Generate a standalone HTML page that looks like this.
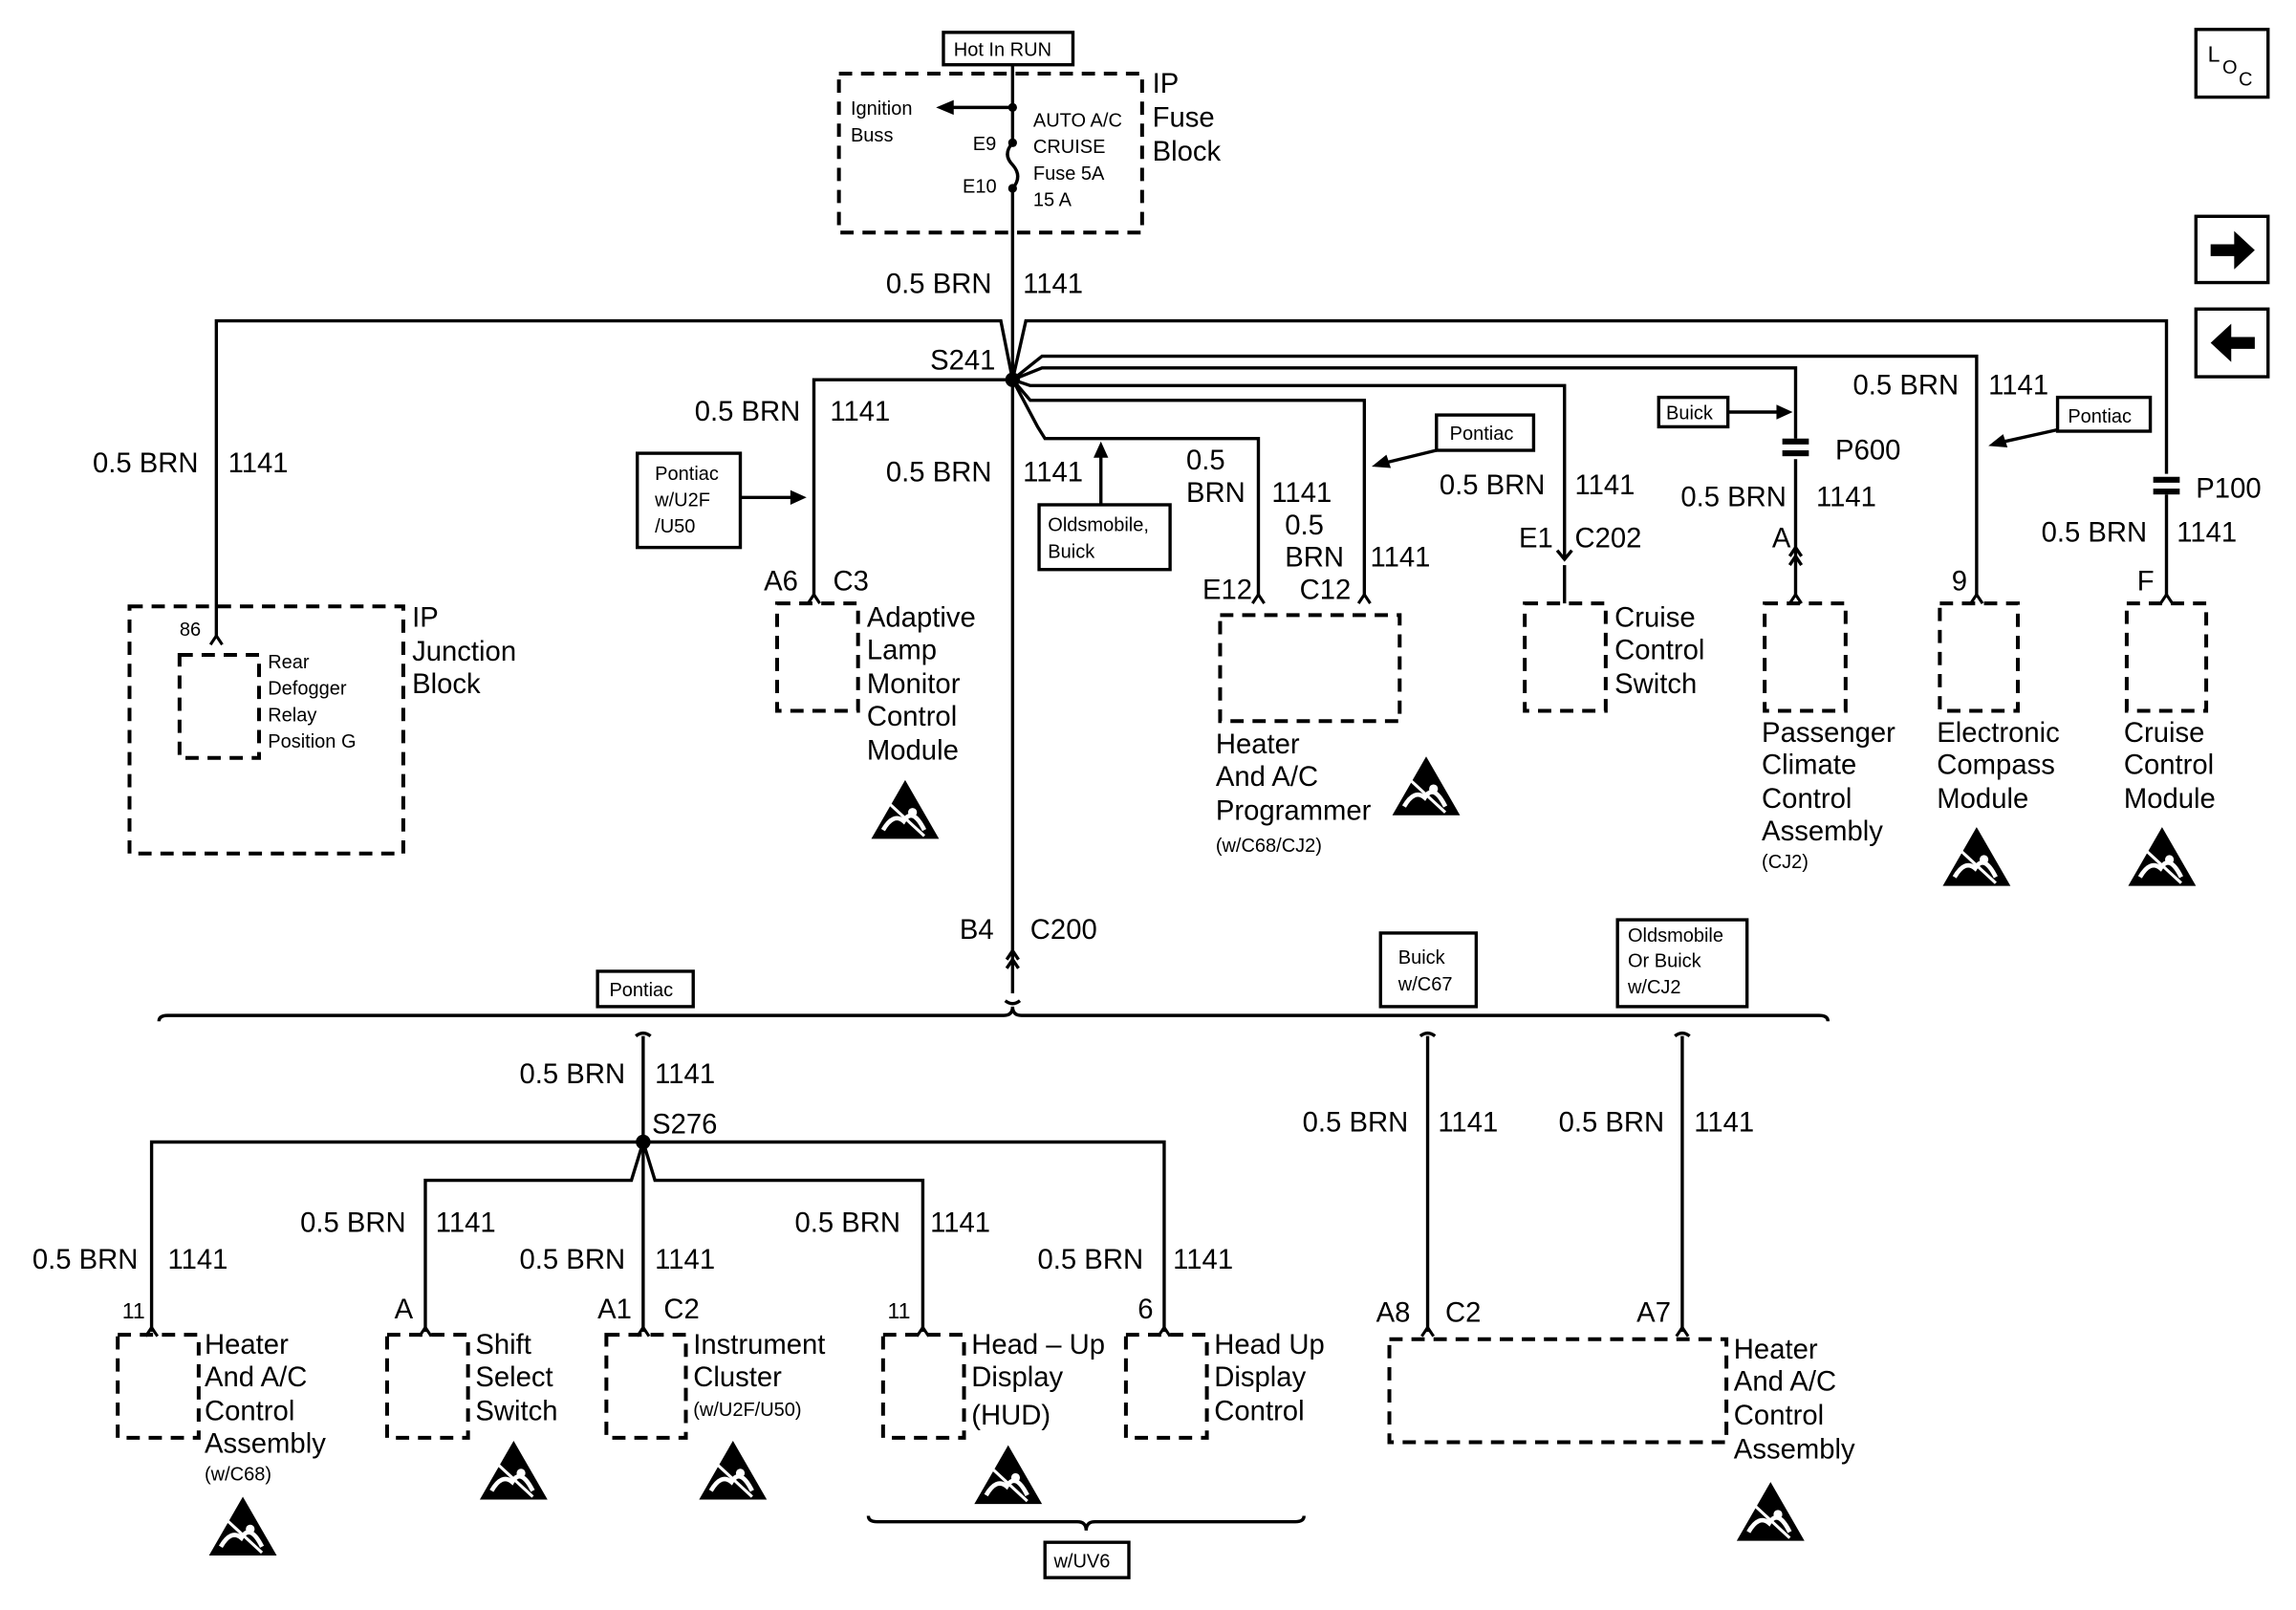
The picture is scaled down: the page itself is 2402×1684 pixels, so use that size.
<!DOCTYPE html>
<html><head><meta charset="utf-8"><style>
html,body{margin:0;padding:0;background:#fff}
svg{display:block}
text{font-family:"Liberation Sans",sans-serif;fill:#000}
.L{font-size:19px}.S{font-size:13px}.M{font-size:15px}
.w{stroke:#000;stroke-width:2.2;fill:none}
.d{stroke:#000;stroke-width:2.6;fill:none;stroke-dasharray:9,6}
.b{stroke:#000;stroke-width:2.2;fill:#fff}
</style></head><body>
<svg width="2402" height="1684" viewBox="0 0 1560 1094" preserveAspectRatio="none" xmlns="http://www.w3.org/2000/svg">
<defs>
<g id="esd"><polygon points="0,40 23,0 46,40" fill="#000"/><path d="M8,34 Q15,22 22,28 Q28,18 36,34" stroke="#fff" stroke-width="3" fill="none"/><line x1="10" y1="14" x2="36" y2="38" stroke="#fff" stroke-width="2"/><circle cx="28" cy="22" r="3" fill="#fff"/></g>
<path id="ch" d="M-4,6 L0,0 L4,6" stroke="#000" stroke-width="2" fill="none"/>
</defs>
<!-- right icons -->
<rect x="1492" y="20" width="49" height="46" class="b" stroke-width="3"/>
<text x="1500" y="42" class="M">L</text><text x="1510" y="50" class="S">O</text><text x="1521" y="58" class="S">C</text>
<rect x="1492" y="147" width="49" height="45" class="b" stroke-width="3"/>
<path d="M1502,166 h16 v-9 l14,13 l-14,13 v-9 h-16z" fill="#000"/>
<rect x="1492" y="210" width="49" height="46" class="b" stroke-width="3"/>
<path d="M1532,229 h-16 v-9 l-14,13 l14,13 v-9 h16z" fill="#000"/>
<!-- top fuse block -->
<rect x="641" y="22" width="88" height="22" class="b"/><text x="648" y="38" class="S">Hot In RUN</text>
<rect x="570" y="50" width="206" height="108" class="d"/>
<line x1="688" y1="44" x2="688" y2="97" class="w"/>
<line x1="688" y1="73" x2="645" y2="73" class="w"/><path d="M636,73 l12,-5 v10z" fill="#000"/>
<circle cx="688" cy="73" r="3"/><circle cx="688" cy="97" r="3"/><circle cx="688" cy="128" r="3"/>
<path d="M688,97 q-7,8 0,15 q7,8 0,16" class="w"/>
<text x="578" y="78" class="S">Ignition</text><text x="578" y="96" class="S">Buss</text>
<text x="661" y="102" class="S">E9</text><text x="654" y="131" class="S">E10</text>
<text x="702" y="86" class="S">AUTO A/C</text><text x="702" y="104" class="S">CRUISE</text><text x="702" y="122" class="S">Fuse 5A</text><text x="702" y="140" class="S">15 A</text>
<text x="783" y="63" class="L">IP</text><text x="783" y="86" class="L">Fuse</text><text x="783" y="109" class="L">Block</text>
<line x1="688" y1="128" x2="688" y2="675" class="w"/>
<text x="602" y="199" class="L">0.5 BRN</text><text x="695" y="199" class="L">1141</text>
<!-- S241 -->
<circle cx="688" cy="258" r="5"/>
<text x="632" y="251" class="L">S241</text>
<path d="M147,432 V218 H680 L688,258" class="w"/>
<path d="M688,258 L697,218 H1472 V322" class="w"/>
<path d="M688,258 L708,242 H1343 V406" class="w"/>
<path d="M688,258 L708,250 H1220 V298" class="w"/>
<path d="M1220,312 V406" class="w"/>
<path d="M688,258 L700,262 H1063 V380" class="w"/>
<path d="M688,258 L700,272 H927 V406" class="w"/>
<path d="M688,258 L705,290 L710,298 H855 V406" class="w"/>
<path d="M688,258 H553 V406" class="w"/>
<!-- connectors chevrons -->
<use href="#ch" x="147" y="432"/><use href="#ch" x="553" y="404"/><use href="#ch" x="855" y="404"/><use href="#ch" x="927" y="404"/>
<use href="#ch" x="1343" y="404"/><use href="#ch" x="1220" y="404"/><use href="#ch" x="1472" y="404"/>
<path d="M1058,374 l5,6 l5,-6" class="w"/><line x1="1063" y1="384" x2="1063" y2="410" class="w"/>
<path d="M1216,378 l4,-6 l4,6 M1216,384 l4,-6 l4,6" class="w"/>
<!-- P600, P100 -->
<rect x="1211" y="298" width="18" height="4" fill="#000"/><rect x="1211" y="306" width="18" height="4" fill="#000"/>
<rect x="1463" y="324" width="18" height="4" fill="#000"/><rect x="1463" y="332" width="18" height="4" fill="#000"/>
<line x1="1472" y1="336" x2="1472" y2="406" class="w"/>
<text x="1247" y="312" class="L">P600</text><text x="1492" y="338" class="L">P100</text>
<!-- wire labels -->
<text x="63" y="321" class="L">0.5 BRN</text><text x="155" y="321" class="L">1141</text>
<text x="472" y="286" class="L">0.5 BRN</text><text x="564" y="286" class="L">1141</text>
<text x="602" y="327" class="L">0.5 BRN</text><text x="695" y="327" class="L">1141</text>
<text x="806" y="319" class="L">0.5</text><text x="806" y="341" class="L">BRN</text><text x="864" y="341" class="L">1141</text>
<text x="873" y="363" class="L">0.5</text><text x="873" y="385" class="L">BRN</text><text x="931" y="385" class="L">1141</text>
<text x="978" y="336" class="L">0.5 BRN</text><text x="1070" y="336" class="L">1141</text>
<text x="1142" y="344" class="L">0.5 BRN</text><text x="1234" y="344" class="L">1141</text>
<text x="1259" y="268" class="L">0.5 BRN</text><text x="1351" y="268" class="L">1141</text>
<text x="1387" y="368" class="L">0.5 BRN</text><text x="1479" y="368" class="L">1141</text>
<text x="519" y="401" class="L">A6</text><text x="566" y="401" class="L">C3</text>
<text x="817" y="407" class="L">E12</text><text x="883" y="407" class="L">C12</text>
<text x="1032" y="372" class="L">E1</text><text x="1070" y="372" class="L">C202</text>
<text x="1204" y="372" class="L">A</text><text x="1326" y="401" class="L">9</text><text x="1452" y="401" class="L">F</text>
<text x="122" y="432" class="S">86</text>
<!-- option labels -->
<rect x="433" y="308" width="70" height="64" class="b"/><text x="445" y="326" class="S">Pontiac</text><text x="445" y="344" class="S">w/U2F</text><text x="445" y="362" class="S">/U50</text>
<line x1="503" y1="338" x2="538" y2="338" class="w"/><path d="M548,338 l-11,-5 v10z" fill="#000"/>
<rect x="706" y="343" width="89" height="44" class="b"/><text x="712" y="361" class="S">Oldsmobile,</text><text x="712" y="379" class="S">Buick</text>
<line x1="748" y1="343" x2="748" y2="310" class="w"/><path d="M748,300 l-5,11 h10z" fill="#000"/>
<rect x="976" y="282" width="66" height="24" class="b"/><text x="985" y="299" class="S">Pontiac</text>
<line x1="976" y1="306" x2="943" y2="314" class="w"/><path d="M932,317 l10,-8 l3,9z" fill="#000"/>
<rect x="1127" y="270" width="47" height="20" class="b"/><text x="1132" y="285" class="S">Buick</text>
<line x1="1174" y1="280" x2="1208" y2="280" class="w"/><path d="M1218,280 l-11,-5 v10z" fill="#000"/>
<rect x="1398" y="270" width="63" height="23" class="b"/><text x="1405" y="287" class="S">Pontiac</text>
<line x1="1398" y1="292" x2="1362" y2="300" class="w"/><path d="M1351,303 l10,-8 l3,9z" fill="#000"/>
<!-- top components -->
<rect x="88" y="412" width="186" height="168" class="d"/><rect x="122" y="445" width="54" height="70" class="d"/>
<text x="182" y="454" class="S">Rear</text><text x="182" y="472" class="S">Defogger</text><text x="182" y="490" class="S">Relay</text><text x="182" y="508" class="S">Position G</text>
<text x="280" y="426" class="L">IP</text><text x="280" y="449" class="L">Junction</text><text x="280" y="471" class="L">Block</text>
<rect x="528" y="410" width="55" height="73" class="d"/>
<text x="589" y="426" class="L">Adaptive</text><text x="589" y="448" class="L">Lamp</text><text x="589" y="471" class="L">Monitor</text><text x="589" y="493" class="L">Control</text><text x="589" y="516" class="L">Module</text>
<use href="#esd" x="592" y="530"/>
<rect x="829" y="418" width="122" height="72" class="d"/>
<text x="826" y="512" class="L">Heater</text><text x="826" y="534" class="L">And A/C</text><text x="826" y="557" class="L">Programmer</text><text x="826" y="579" class="S">(w/C68/CJ2)</text>
<use href="#esd" x="946" y="514"/>
<rect x="1036" y="410" width="55" height="73" class="d"/>
<text x="1097" y="426" class="L">Cruise</text><text x="1097" y="448" class="L">Control</text><text x="1097" y="471" class="L">Switch</text>
<rect x="1199" y="410" width="55" height="73" class="d"/>
<text x="1197" y="504" class="L">Passenger</text><text x="1197" y="526" class="L">Climate</text><text x="1197" y="549" class="L">Control</text><text x="1197" y="571" class="L">Assembly</text><text x="1197" y="590" class="S">(CJ2)</text>
<rect x="1318" y="410" width="53" height="73" class="d"/>
<text x="1316" y="504" class="L">Electronic</text><text x="1316" y="526" class="L">Compass</text><text x="1316" y="549" class="L">Module</text>
<use href="#esd" x="1320" y="562"/>
<rect x="1445" y="410" width="54" height="73" class="d"/>
<text x="1443" y="504" class="L">Cruise</text><text x="1443" y="526" class="L">Control</text><text x="1443" y="549" class="L">Module</text>
<use href="#esd" x="1446" y="562"/>
<!-- C200 -->
<text x="652" y="638" class="L">B4</text><text x="700" y="638" class="L">C200</text>
<path d="M684,652 l4,-6 l4,6 M684,658 l4,-6 l4,6" class="w"/>
<path d="M683,680 q5,4 10,0" class="w"/>
<path d="M108,694 q0,-4 6,-4 H682 q6,0 6,-6 q0,6 6,6 H1236 q6,0 6,4" class="w"/>
<rect x="406" y="660" width="65" height="24" class="b"/><text x="414" y="677" class="S">Pontiac</text>
<rect x="938" y="634" width="65" height="50" class="b"/><text x="950" y="655" class="S">Buick</text><text x="950" y="673" class="S">w/C67</text>
<rect x="1099" y="625" width="88" height="59" class="b"/><text x="1106" y="640" class="S">Oldsmobile</text><text x="1106" y="657" class="S">Or Buick</text><text x="1106" y="675" class="S">w/CJ2</text>
<!-- bottom -->
<path d="M432,704 q5,-4 10,0 M965,704 q5,-4 10,0 M1138,704 q5,-4 10,0" class="w"/>
<line x1="437" y1="704" x2="437" y2="905" class="w"/>
<circle cx="437" cy="776" r="5"/><text x="443" y="770" class="L">S276</text>
<text x="353" y="736" class="L">0.5 BRN</text><text x="445" y="736" class="L">1141</text>
<path d="M103,905 V776 H791 V905" class="w"/>
<path d="M289,905 V802 H429 L437,776 L445,802 H627 V905" class="w"/>
<line x1="970" y1="704" x2="970" y2="905" class="w"/><line x1="1143" y1="704" x2="1143" y2="905" class="w"/>
<use href="#ch" x="103" y="902"/><use href="#ch" x="289" y="902"/><use href="#ch" x="437" y="902"/><use href="#ch" x="627" y="902"/><use href="#ch" x="791" y="902"/><use href="#ch" x="970" y="902"/><use href="#ch" x="1143" y="902"/>
<text x="22" y="862" class="L">0.5 BRN</text><text x="114" y="862" class="L">1141</text>
<text x="204" y="837" class="L">0.5 BRN</text><text x="296" y="837" class="L">1141</text>
<text x="353" y="862" class="L">0.5 BRN</text><text x="445" y="862" class="L">1141</text>
<text x="540" y="837" class="L">0.5 BRN</text><text x="632" y="837" class="L">1141</text>
<text x="705" y="862" class="L">0.5 BRN</text><text x="797" y="862" class="L">1141</text>
<text x="885" y="769" class="L">0.5 BRN</text><text x="977" y="769" class="L">1141</text>
<text x="1059" y="769" class="L">0.5 BRN</text><text x="1151" y="769" class="L">1141</text>
<text x="83" y="896" class="M">11</text><text x="268" y="896" class="L">A</text><text x="406" y="896" class="L">A1</text><text x="451" y="896" class="L">C2</text>
<text x="603" y="896" class="M">11</text><text x="773" y="896" class="L">6</text>
<text x="935" y="898" class="L">A8</text><text x="982" y="898" class="L">C2</text><text x="1112" y="898" class="L">A7</text>
<rect x="80" y="907" width="55" height="70" class="d"/>
<text x="139" y="920" class="L">Heater</text><text x="139" y="942" class="L">And A/C</text><text x="139" y="965" class="L">Control</text><text x="139" y="987" class="L">Assembly</text><text x="139" y="1006" class="S">(w/C68)</text>
<use href="#esd" x="142" y="1017"/>
<rect x="263" y="907" width="55" height="70" class="d"/>
<text x="323" y="920" class="L">Shift</text><text x="323" y="942" class="L">Select</text><text x="323" y="965" class="L">Switch</text>
<use href="#esd" x="326" y="979"/>
<rect x="412" y="907" width="54" height="70" class="d"/>
<text x="471" y="920" class="L">Instrument</text><text x="471" y="942" class="L">Cluster</text><text x="471" y="962" class="S">(w/U2F/U50)</text>
<use href="#esd" x="475" y="979"/>
<rect x="600" y="907" width="55" height="70" class="d"/>
<text x="660" y="920" class="L">Head – Up</text><text x="660" y="942" class="L">Display</text><text x="660" y="968" class="L">(HUD)</text>
<use href="#esd" x="662" y="982"/>
<rect x="765" y="907" width="55" height="70" class="d"/>
<text x="825" y="920" class="L">Head Up</text><text x="825" y="942" class="L">Display</text><text x="825" y="965" class="L">Control</text>
<rect x="944" y="910" width="229" height="70" class="d"/>
<text x="1178" y="923" class="L">Heater</text><text x="1178" y="945" class="L">And A/C</text><text x="1178" y="968" class="L">Control</text><text x="1178" y="991" class="L">Assembly</text>
<use href="#esd" x="1180" y="1007"/>
<path d="M590,1030 q0,4 6,4 H732 q6,0 6,6 q0,-6 6,-6 H880 q6,0 6,-4" class="w"/>
<rect x="710" y="1048" width="57" height="24" class="b"/><text x="716" y="1065" class="S">w/UV6</text>
</svg>
</body></html>
